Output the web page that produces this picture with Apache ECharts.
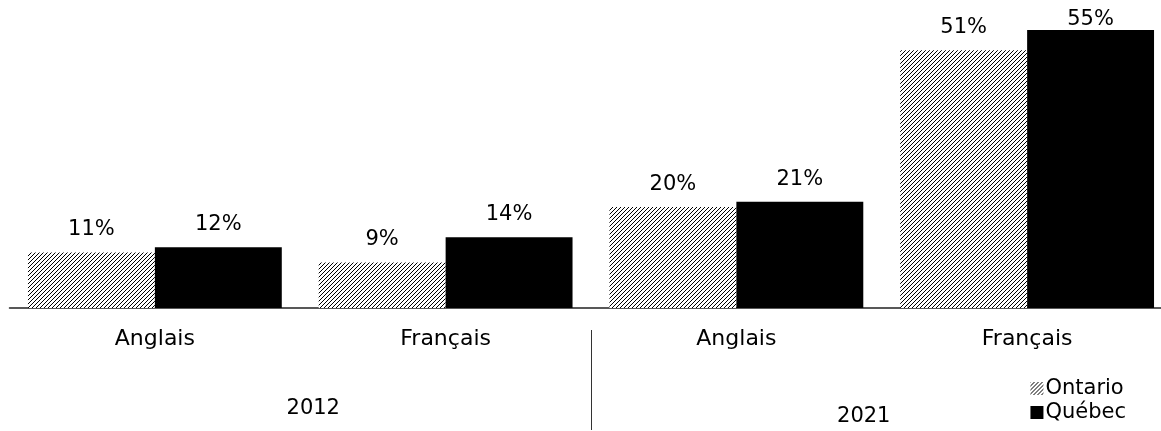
<!DOCTYPE html>
<html>
<head>
<meta charset="utf-8">
<script src="https://cdn.jsdelivr.net/npm/echarts@6/dist/echarts.min.js"></script>
<style>
  html, body { margin: 0; padding: 0; background: #fff; }
  #main { width: 1161px; height: 431px; }
</style>
</head>
<body>
<div id="main"></div>
<script>
const categories = ['Anglais', 'Français', 'Anglais', 'Français']
const years = ['2012', '2021']
const ontario = [11, 9, 20, 51]
const quebec = [12, 14, 21, 55]

const FONT = 'DejaVu Sans'

// hachures diagonales pour Ontario
function hatch () {
  const c = document.createElement('canvas')
  c.width = 4
  c.height = 4
  const ctx = c.getContext('2d')
  ctx.fillStyle = '#fff'
  ctx.fillRect(0, 0, 4, 4)
  ctx.strokeStyle = '#000'
  ctx.lineWidth = 1
  ctx.beginPath()
  ctx.moveTo(0, 4); ctx.lineTo(4, 0)
  ctx.moveTo(-1, 1); ctx.lineTo(1, -1)
  ctx.moveTo(3, 5); ctx.lineTo(5, 3)
  ctx.stroke()
  return c
}

const myChart = echarts.init(document.getElementById('main'))
const labelStyle = {
  show: true,
  position: 'top',
  distance: 12,
  formatter: '{c}%',
  color: '#000',
  fontFamily: FONT,
  fontSize: 21
}

const option = {
  animation: false,
  grid: { left: 9.5, width: 1163, top: 4.7, bottom: 123, outerBoundsMode: 'none' },
  legend: {
    orient: 'vertical',
    right: 30,
    top: 373,
    icon: 'rect',
    itemWidth: 13,
    itemHeight: 13,
    itemGap: 3,
    textStyle: { fontFamily: FONT, fontSize: 21, color: '#000', padding: [0, 0, 0, -3] },
    data: ['Ontario', 'Québec']
  },
  xAxis: [
    {
      type: 'category',
      data: categories,
      axisLine: { lineStyle: { color: '#222', width: 1.5 } },
      axisTick: { show: false },
      axisLabel: { margin: 20, color: '#000', fontFamily: FONT, fontSize: 22 }
    },
    {
      // axe des années : séparateur au milieu, libellés sous chaque groupe
      type: 'value',
      min: 0,
      max: years.length,
      position: 'bottom',
      offset: 22,
      axisLine: { show: false },
      splitLine: { show: false },
      axisTick: {
        show: true,
        length: 100,
        customValues: [1],
        lineStyle: { color: '#333', width: 1 }
      },
      axisLabel: {
        margin: 68,
        customValues: [0.5, 1.5],
        formatter: function (v) {
          const y = years[Math.floor(v)]
          return v < 1 ? '{a|' + y + '}' : '{b|' + y + '}'
        },
        rich: {
          a: { fontFamily: FONT, fontSize: 21, color: '#000', padding: [0, 0, 0, 26] },
          b: { fontFamily: FONT, fontSize: 21, color: '#000', padding: [8, 36, 0, 0] }
        }
      }
    }
  ],
  yAxis: {
    type: 'value',
    min: 0,
    max: 60,
    show: false,
    splitLine: { show: false }
  },
  series: [
    {
      name: 'Ontario',
      type: 'bar',
      barGap: 0,
      barCategoryGap: '12.7%',
      itemStyle: { color: { image: hatch(), repeat: 'repeat' } },
      label: labelStyle,
      data: ontario
    },
    {
      name: 'Québec',
      type: 'bar',
      itemStyle: { color: '#000' },
      label: labelStyle,
      data: quebec.map(function (v) {
        // la plus haute étiquette est collée au sommet de la barre
        return v === Math.max.apply(null, quebec) ? { value: v, label: { distance: 0 } } : v
      })
    }
  ]
}

myChart.setOption(option)
</script>
</body>
</html>
